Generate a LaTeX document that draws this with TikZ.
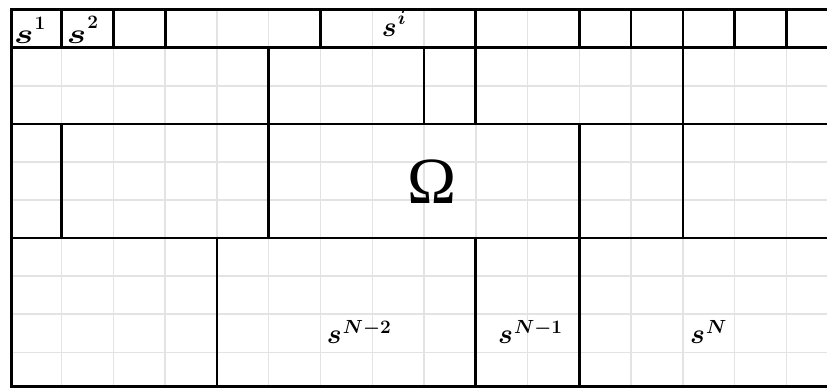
\RequirePackage{fix-cm}
\documentclass[tikz,border=0pt]{standalone}
\usepackage{amsmath}
\usepackage{graphicx}
\usepackage{fontspec}
\newfontfamily\tmsfont{Liberation Serif}
\newcommand\slab[3]{%
  \scalebox{#1}[1]{$\boldsymbol{s}$}\kern1pt\raisebox{#2}{\fontsize{19}{19}\selectfont\boldmath$#3$}}
\begin{document}
\begin{tikzpicture}[x=51.76pt, y=-38.08pt,
  gridline/.style={draw=black!11, line width=1.5pt},
  wall/.style={draw=black, line width=2.6pt},
  border/.style={draw=black, line width=3.6pt, line join=miter},
  lbl/.style={anchor=base west, inner sep=0pt, font=\fontsize{28}{28}\selectfont}]
\useasboundingbox (-0.19204,-0.25210) rectangle (15.7856,9.9370);
\clip (-0.19204,-0.25210) rectangle (15.7856,9.9370);
\fill[white] (-0.19204,-0.25210) rectangle (15.7856,9.9370);
% light grid
\foreach \k in {1,...,15} \draw[gridline] (\k,0) -- (\k,9.903);
\foreach \j in {1,...,9} \draw[gridline] (0.034,\j) -- (16,\j);
% subdomain walls
\foreach \j in {1,3,6} \draw[wall] (0.034,\j) -- (16,\j);
\foreach \k in {1,2,3,6,9,11,12,13,14,15} \draw[wall] (\k,0) -- (\k,1);
\foreach \k in {5,8,9,13} \draw[wall] (\k,1) -- (\k,3);
\foreach \k in {1,5,11,13} \draw[wall] (\k,3) -- (\k,6);
\foreach \k in {4,9,11} \draw[wall] (\k,6) -- (\k,9.903);
% outer border
\draw[border] (16,0) -- (0.034,0) -- (0.034,9.903) -- (16,9.903);
% labels
\node[lbl] (s1) at (0.078,0.890) {\slab{1.3}{14pt}{\mathbf{1}}};
\node[lbl] (s2) at (1.097,0.890) {\slab{1.3}{15pt}{\mathbf{2}}};
\node[lbl] (si) at (7.182,0.712) {\slab{1}{12pt}{i}};
\node[lbl] (sN2) at (6.120,8.763) {\slab{1}{9.5pt}{N{-}\mathbf{2}}};
\node[lbl] (sN1) at (9.429,8.763) {\slab{1}{9.5pt}{N{-}\mathbf{1}}};
\node[lbl] (sN) at (13.139,8.763) {\slab{1}{9.5pt}{N}};
\node[anchor=base, inner sep=0pt, font=\fontsize{66}{66}\selectfont\tmsfont] (omega) at (8.148,5.105) {Ω};
\end{tikzpicture}
\end{document}
